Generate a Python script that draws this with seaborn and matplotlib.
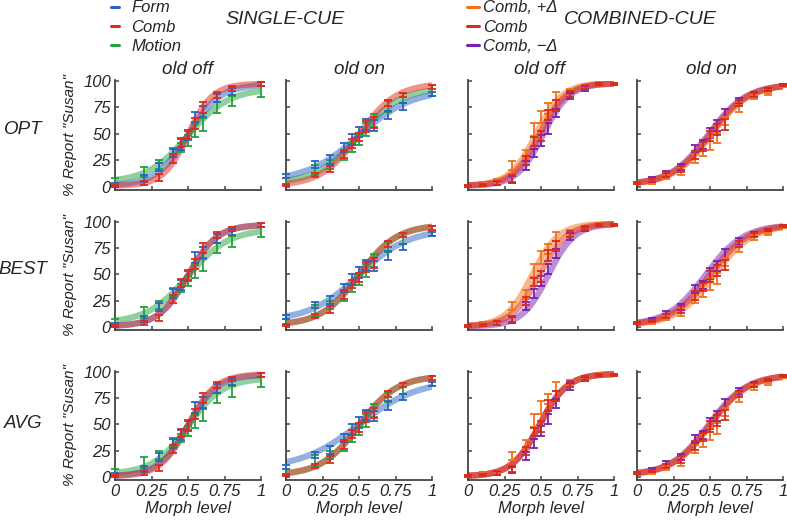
import numpy as np
import pandas as pd
import matplotlib
matplotlib.use("Agg")
import matplotlib.pyplot as plt
from matplotlib.lines import Line2D
import seaborn as sns

# ---------------- data ----------------
ROWS = ["OPT", "BEST", "AVG"]
COLS = ["old off", "old on", "old off", "old on"]

# single-cue observations (same in every row)
SC_X = [0, 0.2, 0.3, 0.4, 0.45, 0.5, 0.55, 0.6, 0.7, 0.8, 1.0]
SC_FORM_OFF = [2, 8, 19, 32, 40, 49, 66, 71, 84, 90, 97]
SC_COMB_OFF = [1, 4, 9, 27, 42, 49, 60, 75, 87, 93, 97]
SC_MOTION_OFF = [5, 14, 21, 33, 37, 44, 53, 59, 75, 81, 90]
SC_FORM_ON = [10, 21, 26, 37, 45, 52, 59, 58, 68, 76, 88]
SC_COMB_ON = [2, 11, 17, 31, 41, 47, 57, 61, 79, 87, 94]
SC_MOTION_ON = [5, 16, 21, 29, 37, 45, 54, 63, 76, 84, 91]
SC_ERR_FORM = [2, 3, 4, 4, 5, 5, 5, 5, 4, 3, 2]
SC_ERR_COMB = [1, 2, 3, 4, 4, 4, 5, 5, 3, 2, 2]
SC_ERR_MOTION = [3, 5, 4, 4, 4, 5, 6, 6, 5, 5, 5]

# combined-cue observations (same in every row)
CC_X = [0, 0.1, 0.2, 0.3, 0.4, 0.45, 0.5, 0.55, 0.6, 0.7, 0.8, 0.9, 1.0]
CC_PLUS_OFF = [1, 3, 5, 20, 31, 54, 66, 74, 86, 89, 94, 98, 97]
CC_COMB_OFF = [1, 2, 4, 8, 25, 43, 48, 68, 77, 88, 94, 97, 97]
CC_MINUS_OFF = [1, 3, 4, 7, 20, 32, 44, 55, 70, 86, 93, 97, 97]
CC_PLUS_ON = [4, 5, 9, 15, 27, 35, 41, 46, 62, 74, 85, 88, 95]
CC_COMB_ON = [4, 6, 11, 17, 30, 38, 48, 54, 59, 79, 87, 92, 96]
CC_MINUS_ON = [4, 7, 13, 19, 36, 40, 51, 58, 70, 81, 88, 92, 96]
CC_ERR_PLUS = [1, 2, 2, 4, 4, 6, 6, 5, 4, 3, 2, 1, 1]
CC_ERR_COMB = [1, 1, 2, 3, 4, 4, 5, 5, 5, 3, 2, 1, 1]
CC_ERR_MINUS = [1, 2, 2, 3, 4, 4, 5, 5, 4, 3, 2, 1, 1]

# fitted psychometric curves: (mu, slope, lower, upper) per series
FIT_OPT_SC_OFF = [(0.50, 0.110, 0.01, 0.97), (0.50, 0.085, 0.01, 0.975), (0.50, 0.140, 0.04, 0.93)]
FIT_OPT_SC_ON = [(0.50, 0.180, 0.05, 0.92), (0.50, 0.130, 0.01, 0.98), (0.50, 0.145, 0.03, 0.94)]
FIT_OPT_CC_OFF = [(0.465, 0.090, 0.01, 0.98), (0.490, 0.092, 0.01, 0.98), (0.515, 0.090, 0.01, 0.98)]
FIT_OPT_CC_ON = [(0.51, 0.130, 0.02, 0.97), (0.50, 0.130, 0.02, 0.97), (0.49, 0.130, 0.02, 0.97)]
FIT_BEST_SC_OFF = [(0.50, 0.100, 0.01, 0.97), (0.50, 0.100, 0.01, 0.97), (0.50, 0.140, 0.04, 0.93)]
FIT_BEST_SC_ON = [(0.50, 0.170, 0.06, 0.93), (0.50, 0.130, 0.02, 0.97), (0.50, 0.130, 0.02, 0.97)]
FIT_BEST_CC_OFF = [(0.44, 0.090, 0.01, 0.98), (0.49, 0.095, 0.01, 0.98), (0.55, 0.090, 0.01, 0.98)]
FIT_BEST_CC_ON = [(0.53, 0.130, 0.02, 0.97), (0.50, 0.130, 0.02, 0.97), (0.47, 0.130, 0.02, 0.97)]
FIT_AVG_SC_OFF = [(0.50, 0.100, 0.01, 0.97), (0.50, 0.095, 0.01, 0.975), (0.50, 0.120, 0.03, 0.94)]
FIT_AVG_SC_ON = [(0.50, 0.200, 0.08, 0.92), (0.50, 0.130, 0.02, 0.96), (0.50, 0.130, 0.02, 0.96)]
FIT_AVG_CC_OFF = [(0.49, 0.095, 0.01, 0.98), (0.49, 0.095, 0.01, 0.98), (0.49, 0.095, 0.01, 0.98)]
FIT_AVG_CC_ON = [(0.50, 0.130, 0.02, 0.97), (0.50, 0.130, 0.02, 0.97), (0.49, 0.130, 0.02, 0.97)]

SC_LABELS = ["Form", "Comb", "Motion"]
CC_LABELS = ["Comb, +\u0394", "Comb", "Comb, \u2212\u0394"]
SC_COLORS = ["#2b63c2", "#e0291f", "#22a23a"]
CC_COLORS = ["#f5701a", "#d82a1c", "#7b1fb4"]

X_TICKS = [0, 0.25, 0.5, 0.75, 1]
X_TICKLABELS = ["0", "0.25", "0.5", "0.75", "1"]
Y_TICKS = [0, 25, 50, 75, 100]

# ---------------- style ----------------
sns.set_style("ticks")
plt.rcParams["font.family"] = ["Liberation Sans", "DejaVu Sans"]
plt.rcParams["font.style"] = "italic"

W, H = 787, 520
fig = plt.figure(figsize=(W / 100, H / 100), dpi=100)


def rect(l, t, w, h):
    return [l / W, 1 - (t + h) / H, w / W, h / H]


COL_LEFT = [115, 286, 468, 637]
ROW_TOP = [80.5, 221.0, 371.0]
AX_W, AX_H = 146, 109

FITS = [
    [FIT_OPT_SC_OFF, FIT_OPT_SC_ON, FIT_OPT_CC_OFF, FIT_OPT_CC_ON],
    [FIT_BEST_SC_OFF, FIT_BEST_SC_ON, FIT_BEST_CC_OFF, FIT_BEST_CC_ON],
    [FIT_AVG_SC_OFF, FIT_AVG_SC_ON, FIT_AVG_CC_OFF, FIT_AVG_CC_ON],
]
OBS = [
    (SC_X, [SC_FORM_OFF, SC_COMB_OFF, SC_MOTION_OFF], [SC_ERR_FORM, SC_ERR_COMB, SC_ERR_MOTION]),
    (SC_X, [SC_FORM_ON, SC_COMB_ON, SC_MOTION_ON], [SC_ERR_FORM, SC_ERR_COMB, SC_ERR_MOTION]),
    (CC_X, [CC_PLUS_OFF, CC_COMB_OFF, CC_MINUS_OFF], [CC_ERR_PLUS, CC_ERR_COMB, CC_ERR_MINUS]),
    (CC_X, [CC_PLUS_ON, CC_COMB_ON, CC_MINUS_ON], [CC_ERR_PLUS, CC_ERR_COMB, CC_ERR_MINUS]),
]

xs = np.linspace(0, 1, 200)


def psy(p):
    mu, s, lo, hi = p
    return 100 * (lo + (hi - lo) / (1 + np.exp(-(xs - mu) / s)))


SC_ORDER = [2, 0, 1]   # motion, form, comb on top
CC_ORDER = [2, 0, 1]   # minus, plus, comb on top

for r in range(3):
    for c in range(4):
        ax = fig.add_axes(rect(COL_LEFT[c], ROW_TOP[r], AX_W, AX_H))
        colors = SC_COLORS if c < 2 else CC_COLORS
        order = SC_ORDER if c < 2 else CC_ORDER
        xobs, yobs, eobs = OBS[c]
        for i in order:
            df = pd.DataFrame({"x": xs, "y": psy(FITS[r][c][i])})
            sns.lineplot(data=df, x="x", y="y", ax=ax, color=colors[i],
                         lw=4.5, alpha=0.5, legend=False, solid_capstyle="butt")
        for i in order:
            ax.errorbar(xobs, yobs[i], yerr=eobs[i], fmt="none", ecolor=colors[i],
                        elinewidth=1.3, capsize=2.6, capthick=1.3, clip_on=False, zorder=5)
        ax.set_xlim(0, 1)
        ax.set_ylim(-2.5, 100.5)
        ax.set_xticks(X_TICKS)
        ax.set_yticks(Y_TICKS)
        ax.set_xlabel("")
        ax.set_ylabel("")
        ax.tick_params(direction="in", length=3, width=1.1, color="#444444",
                       labelsize=12, pad=3)
        for sp in ["top", "right"]:
            ax.spines[sp].set_visible(False)
        for sp in ["left", "bottom"]:
            ax.spines[sp].set_color("#444444")
            ax.spines[sp].set_linewidth(1.3)
        if c == 0:
            ax.set_yticklabels([str(v) for v in Y_TICKS])
        else:
            ax.set_yticklabels([])
        if r == 2:
            ax.set_xticklabels(X_TICKLABELS)
            ax.set_xlabel("Morph level", fontsize=12, labelpad=1)
        else:
            ax.set_xticklabels([])
        if c == 0:
            fig.text(70 / W, 1 - (ROW_TOP[r] + AX_H / 2) / H, '% Report "Susan"',
                     rotation=90, ha="center", va="center", fontsize=11)

# row labels
for lab, yc in zip(ROWS, [129, 270, 423]):
    fig.text(23 / W, 1 - yc / H, lab, ha="center", va="center", fontsize=13.5)

# column titles
for lab, xc in zip(COLS, [188, 359, 540, 711]):
    fig.text(xc / W, 1 - 69 / H, lab, ha="center", va="center", fontsize=13.5)

fig.text(285 / W, 1 - 19 / H, "SINGLE-CUE", ha="center", va="center", fontsize=14)
fig.text(640 / W, 1 - 19 / H, "COMBINED-CUE", ha="center", va="center", fontsize=14)

# legends
h1 = [Line2D([], [], color=c, lw=2.2) for c in SC_COLORS]
fig.legend(h1, SC_LABELS, loc="upper left", bbox_to_anchor=(111 / W, 1 - 0.5 / H),
           frameon=False, fontsize=12, handlelength=0.5, handletextpad=0.7,
           labelspacing=0.25, borderpad=0, borderaxespad=0)
h2 = [Line2D([], [], color=c, lw=2.2) for c in CC_COLORS]
fig.legend(h2, CC_LABELS, loc="upper left", bbox_to_anchor=(467 / W, 1 - 0.5 / H),
           frameon=False, fontsize=12, handlelength=0.7, handletextpad=0.25,
           labelspacing=0.25, borderpad=0, borderaxespad=0)

fig.savefig("out.png", dpi=100)
